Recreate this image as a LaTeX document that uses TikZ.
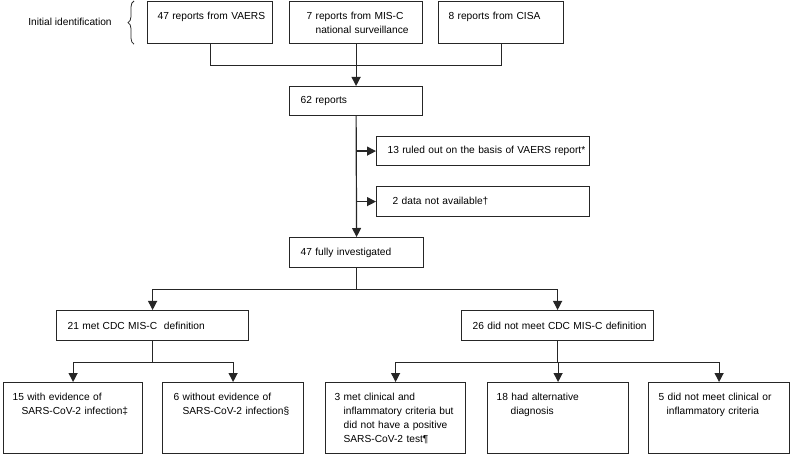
\documentclass[tikz,border=0pt]{standalone}
\usepackage{fontspec}
\setmainfont{Liberation Sans}
\usetikzlibrary{arrows.meta,positioning,decorations.pathreplacing}

\begin{document}
\begin{tikzpicture}[x=1pt, y=-1pt, every node/.style={font=\fontsize{10.2}{14}\selectfont}]
  \tikzset{
    box/.style={draw=black!85, line width=1.2pt, anchor=north west, inner xsep=9pt, inner ysep=0pt, align=left},
    tallbox/.style={box, text height=17.5pt, text depth=#1},
    link/.style={draw=black!85, line width=1.2pt},
    arr/.style={link, -{Triangle[width=9pt,length=9pt]}}
  }
  \def\ind{\hspace*{9pt}}
  \useasboundingbox (0,0) rectangle (790,454);

  % SOURCES
  \node (init) at (70,22) {Initial identification};
  \node[tallbox=24.5pt, text width=107pt] (vaers) at (147,1) {\mbox{\hspace*{1pt}47 reports from VAERS}};
  \node[tallbox=24.5pt, text width=115pt] (misc)  at (289,1) {\mbox{\hspace*{8pt}7 reports from MIS-C}\\\mbox{\hspace*{17pt}national surveillance}};
  \node[tallbox=24.5pt, text width=107pt] (cisa)  at (438,1) {\mbox{\hspace*{1pt}8 reports from CISA}};
  \draw[draw=black!85, line width=0.8pt, decorate, decoration={brace, amplitude=6pt}]
    ([xshift=-13pt]vaers.south west) -- ([xshift=-13pt]vaers.north west);

  % SCREENING
  \node[box, text width=115pt, minimum height=29pt] (r62)   at (289,86)  {\mbox{\hspace*{2pt}62 reports}};
  \node[box, text width=195pt, minimum height=29pt] (ruled) at (376,136) {\mbox{\hspace*{2pt}13 ruled out on the basis of VAERS report*}};
  \node[box, text width=195pt, minimum height=30pt] (na)    at (376,186) {\mbox{\hspace*{7pt}2 data not available\textdagger}};
  \node[box, text width=116pt, minimum height=30pt] (full)  at (289,237) {\mbox{\hspace*{2pt}47 fully investigated}};

  % CDC DEFINITION
  \node[box, text width=174pt, minimum height=30pt] (met)    at (56,310)  {\mbox{\hspace*{2pt}21 met CDC MIS-C\ \ definition}};
  \node[box, text width=174pt, minimum height=30pt] (notmet) at (461,310) {\mbox{\hspace*{2pt}26 did not meet CDC MIS-C definition}};

  % OUTCOMES
  \node[tallbox=53.5pt, text width=121pt] (with)    at (3,382)   {\mbox{15 with evidence of}\\\mbox{\ind SARS-CoV-2 infection\textdaggerdbl}};
  \node[tallbox=53.5pt, text width=123pt] (without) at (162,382) {\mbox{\hspace*{2pt}6 without evidence of}\\\mbox{\ind\hspace*{2pt}SARS-CoV-2 infection\S}};
  \node[tallbox=53.5pt, text width=122pt] (pcr)     at (325,382) {\mbox{3 met clinical and}\\\mbox{\ind inflammatory criteria but}\\\mbox{\ind did not have a positive}\\\mbox{\ind SARS-CoV-2 test\P}};
  \node[tallbox=53.5pt, text width=123pt] (alt)     at (487,382) {\mbox{18 had alternative}\\\mbox{\ind\hspace*{5pt}diagnosis}};
  \node[tallbox=53.5pt, text width=123pt] (crit)    at (648,382) {\mbox{\hspace*{1pt}5 did not meet clinical or}\\\mbox{\ind inflammatory criteria}};

  % CONNECTORS
  \path (misc.south) ++(0,21) coordinate (j0);
  \draw[link] (vaers.south) |- (j0) -| (cisa.south);
  \draw[arr] (misc.south) -- (r62.north);
  \draw[arr] (r62.south) -- (full.north);
  \draw[arr] (r62.south |- ruled.west) -- (ruled.west);
  \draw[arr] (r62.south |- na.west) -- (na.west);

  \path (full.south) ++(0,21) coordinate (j1);
  \draw[link] (full.south) -- (j1);
  \foreach \t in {met, notmet} \draw[arr] (j1) -| (\t.north);

  \path (met.south) ++(0,21) coordinate (j2);
  \draw[link] (met.south) -- (j2);
  \foreach \t in {with, without} \draw[arr] (j2) -| (\t.north);

  \path (notmet.south) ++(0,21) coordinate (j3);
  \draw[link] (notmet.south) -- (j3);
  \foreach \t in {pcr, alt, crit} \draw[arr] (j3) -| (\t.north);
\end{tikzpicture}
\end{document}
